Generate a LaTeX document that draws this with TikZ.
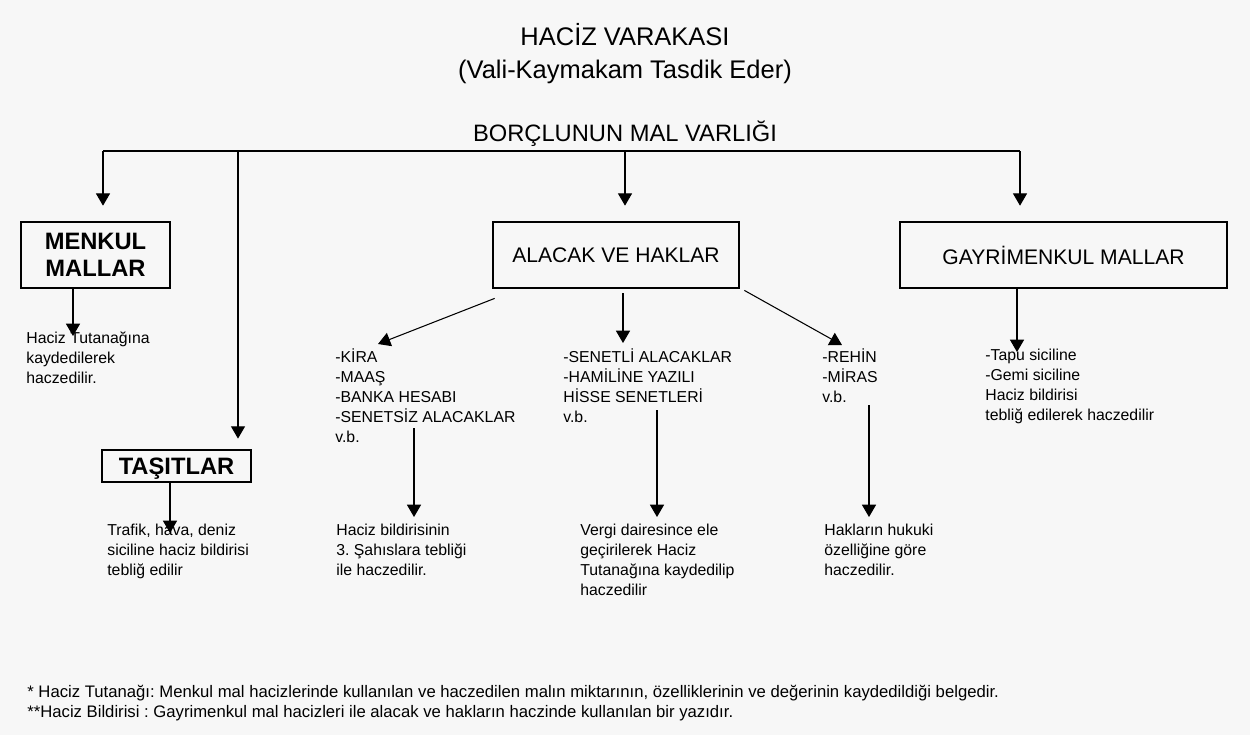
\documentclass[tikz,border=0pt]{standalone}
\usepackage{fontspec}
\setmainfont{Liberation Sans}
\usetikzlibrary{arrows.meta,positioning}
\definecolor{pagegray}{HTML}{F7F7F7}
\frenchspacing

\tikzset{
  arr/.style={-{Triangle[width=8pt,length=7pt]}, line width=0.6pt},
  link/.style={line width=0.6pt},
  catbox/.style={draw, line width=1.6pt, inner sep=0pt, align=center, minimum height=1.32cm},
  headtext/.style={anchor=base, inner sep=0pt, font=\fontsize{14.5}{17}\selectfont},
  note/.style={anchor=base west, inner sep=0pt, align=left, font=\fontsize{9}{11.4}\selectfont},
  footnote/.style={anchor=base west, inner sep=0pt, font=\fontsize{9.5}{11}\selectfont},
}

\begin{document}
\begin{tikzpicture}[x=0.02cm, y=-0.02cm]
    % Page
    \fill[pagegray] (0,0) rectangle (1250,735);
    \useasboundingbox (0,0) rectangle (1250,735);

    % Title
    \node[headtext] (title) at (625,45) {HACİZ VARAKASI};
    \node[headtext] (subtitle) at (625,78) {(Vali-Kaymakam Tasdik Eder)};
    \node[headtext, font=\fontsize{13.5}{16}\selectfont] (assets) at (625,141.5) {BORÇLUNUN MAL VARLIĞI};

    % Bus under the heading
    \coordinate (busL) at (103,151);
    \coordinate (busT) at (238,151);
    \coordinate (busA) at (625,151);
    \coordinate (busR) at (1020,151);
    \draw[link] (busL) -- (busR);

    % Boxes
    \node[catbox, minimum width=2.98cm, font=\fontsize{13.5}{15.4}\selectfont\bfseries] (menkul) at (95.5,255) {MENKUL\\MALLAR};
    \node[catbox, minimum width=4.92cm, font=\fontsize{12}{14}\selectfont] (alacak) at (616,255) {ALACAK VE HAKLAR};
    \node[catbox, minimum width=6.54cm, font=\fontsize{12}{14}\selectfont] (gayri) at (1063.5,255) {GAYRİMENKUL MALLAR};
    \node[catbox, minimum width=2.98cm, minimum height=0.64cm, text depth=0pt, font=\fontsize{13.5}{15.4}\selectfont\bfseries] (tasit) at (176.5,466) {TAŞITLAR};

    \draw[arr, shorten >=8.5pt] (busL) -- (busL |- menkul.north);
    \draw[arr, shorten >=5.7pt] (busT) -- (busT |- tasit.north);
    \draw[arr, shorten >=8.5pt] (busA) -- (busA |- alacak.north);
    \draw[arr, shorten >=8.5pt] (busR) -- (busR |- gayri.north);

    % Menkul mallar (base = last line)
    \node[note] (menkulnote) at (26,383.7) {Haciz Tutanağına\\kaydedilerek\\haczedilir.};
    \coordinate (menkulTip) at (73,336);
    \draw[arr] (menkul.south -| menkulTip) -- (menkulTip);

    % Taşıtlar
    \node[note] (tasitnote) at (107,575.7) {Trafik, hava, deniz\\siciline haciz bildirisi\\tebliğ edilir};
    \coordinate (tasitTip) at (170,533);
    \draw[arr] (tasit.south -| tasitTip) -- (tasitTip);

    % Alacak ve haklar
    \node[note] (kiralist) at (335,442.7) {-KİRA\\-MAAŞ\\-BANKA HESABI\\-SENETSİZ ALACAKLAR\\v.b.};
    \node[note] (senetlist) at (563,422.7) {-SENETLİ ALACAKLAR\\-HAMİLİNE YAZILI\\HİSSE SENETLERİ\\v.b.};
    \node[note] (rehinlist) at (822,402.7) {-REHİN\\-MİRAS\\v.b.};
    \coordinate (kiraTip) at (378,344);
    \coordinate (senetTip) at (623,343);
    \coordinate (rehinTip) at (842,345);
    \draw[arr] ([shift={(3,9)}]alacak.south west) -- (kiraTip);
    \draw[arr, shorten <=2.3pt] (alacak.south -| senetTip) -- (senetTip);
    \draw[arr] ([shift={(4,1)}]alacak.south east) -- (rehinTip);

    \node[note] (kiranote) at (336,575.7) {Haciz bildirisinin\\3. Şahıslara tebliği\\ile haczedilir.};
    \node[note] (senetnote) at (580,595.7) {Vergi dairesince ele\\geçirilerek Haciz\\Tutanağına kaydedilip\\haczedilir};
    \node[note] (rehinnote) at (824,575.7) {Hakların hukuki\\özelliğine göre\\haczedilir.};
    \coordinate (kiraFrom) at (414,428);
    \coordinate (senetFrom) at (657,410);
    \coordinate (rehinFrom) at (869,405);
    \draw[arr] (kiraFrom) -- ++(0,89);
    \draw[arr] (senetFrom) -- ++(0,107);
    \draw[arr] (rehinFrom) -- ++(0,112);

    % Gayrimenkul mallar
    \node[note] (tapulist) at (985,420.7) {-Tapu siciline\\-Gemi siciline\\Haciz bildirisi\\tebliğ edilerek haczedilir};
    \coordinate (tapuTip) at (1017,352);
    \draw[arr] (gayri.south -| tapuTip) -- (tapuTip);

    % Footnotes
    \node[footnote] (fnone) at (27,697) {* Haciz Tutanağı: Menkul mal hacizlerinde kullanılan ve haczedilen malın miktarının, özelliklerinin ve değerinin kaydedildiği belgedir.};
    \node[footnote] (fntwo) at (27,717) {**Haciz Bildirisi : Gayrimenkul mal hacizleri ile alacak ve hakların haczinde kullanılan bir yazıdır.};
\end{tikzpicture}
\end{document}
